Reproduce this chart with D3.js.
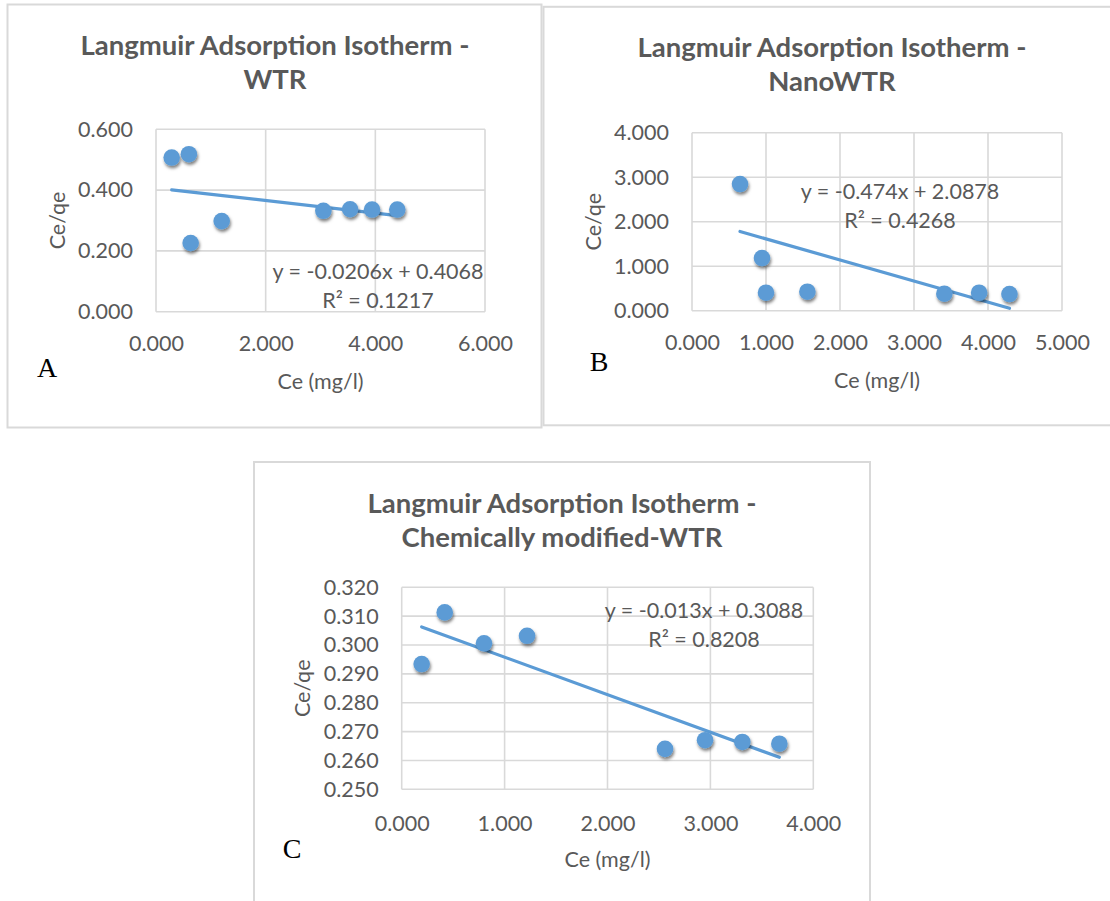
<!DOCTYPE html>
<html>
<head>
<meta charset="utf-8">
<script src="https://cdn.jsdelivr.net/npm/d3@7"></script>
<style>
  html, body { margin: 0; padding: 0; background: #ffffff; }
  svg { display: block; }
  text { font-family: Lato, "Open Sans", sans-serif; fill: #595959; }
</style>
</head>
<body>
<svg id="chart" width="1110" height="901"></svg>
<script>
// Langmuir isotherm data: Ce (mg/l) against Ce/qe for the three sorbents
const wtrCe    = [0.286, 0.600, 0.632, 1.198, 3.052, 3.540, 3.940, 4.400];
const wtrRatio = [0.507, 0.518, 0.226, 0.298, 0.332, 0.337, 0.336, 0.336];

const nanoCe    = [0.649, 0.946, 1.000, 1.559, 3.410, 3.880, 4.290];
const nanoRatio = [2.847, 1.184, 0.405, 0.427, 0.382, 0.405, 0.375];

const cmCe    = [0.194, 0.418, 0.800, 1.218, 2.559, 2.948, 3.310, 3.670];
const cmRatio = [0.2934, 0.3113, 0.3006, 0.3032, 0.2640, 0.2670, 0.2664, 0.2658];

// Linear trendlines (y = slope * x + intercept) with their R² values
const trendSlopes     = [-0.0206, -0.474, -0.013];
const trendIntercepts = [0.4068, 2.0878, 0.3088];
const trendR2         = ["0.1217", "0.4268", "0.8208"];

// Axis ticks
const wtrXTicks  = [0, 2, 4, 6];
const wtrYTicks  = [0, 0.2, 0.4, 0.6];
const nanoXTicks = [0, 1, 2, 3, 4, 5];
const nanoYTicks = [0, 1, 2, 3, 4];
const cmXTicks   = [0, 1, 2, 3, 4];
const cmYTicks   = [0.25, 0.26, 0.27, 0.28, 0.29, 0.30, 0.31, 0.32];

const titleLines = [
  ["Langmuir Adsorption Isotherm -", "WTR"],
  ["Langmuir Adsorption Isotherm -", "NanoWTR"],
  ["Langmuir Adsorption Isotherm -", "Chemically modified-WTR"]
];
const panelLetters = ["A", "B", "C"];
const xAxisTitle = "Ce (mg/l)";
const yAxisTitle = "Ce/qe";

const BLUE = "#5b9bd5";
const GRID = "#d9d9d9";
const fmt3 = d3.format(".3f");

const svg = d3.select("#chart");

// soft drop shadow under the markers
const defs = svg.append("defs");
const shadow = defs.append("filter").attr("id", "markerShadow")
  .attr("x", "-50%").attr("y", "-50%").attr("width", "200%").attr("height", "200%");
shadow.append("feDropShadow")
  .attr("dx", 1).attr("dy", 2.5).attr("stdDeviation", 1.7)
  .attr("flood-color", "#000").attr("flood-opacity", 0.5);

function drawPanel(p) {
  const g = svg.append("g");

  // chart frame
  g.append("rect")
    .attr("x", p.frame[0]).attr("y", p.frame[1])
    .attr("width", p.frame[2]).attr("height", p.frame[3])
    .attr("fill", "#fff").attr("stroke", "#d9d9d9").attr("stroke-width", 2);

  const x = d3.scaleLinear().domain(p.xDomain).range(p.xRange);
  const y = d3.scaleLinear().domain(p.yDomain).range(p.yRange);

  // title
  g.append("text")
    .attr("x", p.titleX).attr("y", p.titleY)
    .attr("text-anchor", "middle")
    .style("font-weight", 700).style("font-size", "27.5px")
    .selectAll("tspan").data(p.title).join("tspan")
    .attr("x", p.titleX)
    .attr("dy", (d, i) => i === 0 ? 0 : 34)
    .text(d => d);

  // gridlines (horizontal and vertical)
  g.append("g").selectAll("line").data(p.yTicks).join("line")
    .attr("x1", p.xRange[0]).attr("x2", p.xRange[1])
    .attr("y1", d => y(d)).attr("y2", d => y(d))
    .attr("stroke", GRID).attr("stroke-width", 1.6);
  g.append("g").selectAll("line").data(p.xTicks).join("line")
    .attr("y1", p.yRange[0]).attr("y2", p.yRange[1])
    .attr("x1", d => x(d)).attr("x2", d => x(d))
    .attr("stroke", GRID).attr("stroke-width", 1.6);

  // tick labels via d3 axes, with the axis lines hidden
  const yAxis = d3.axisLeft(y).tickValues(p.yTicks).tickFormat(fmt3).tickSize(0).tickPadding(23);
  const xAxis = d3.axisBottom(x).tickValues(p.xTicks).tickFormat(fmt3).tickSize(0).tickPadding(p.xPad);
  const ya = g.append("g").attr("transform", `translate(${p.xRange[0]},0)`).call(yAxis);
  const xa = g.append("g").attr("transform", `translate(0,${p.yRange[0]})`).call(xAxis);
  [ya, xa].forEach(a => {
    a.select(".domain").remove();
    a.selectAll("text").attr("fill", "#595959")
      .style("font-family", "Lato, sans-serif").style("font-size", "21.5px");
  });

  // axis titles
  g.append("text")
    .attr("x", (p.xRange[0] + p.xRange[1]) / 2).attr("y", p.xTitleY)
    .attr("text-anchor", "middle").style("font-size", "21.5px")
    .text(xAxisTitle);
  const ym = (p.yRange[0] + p.yRange[1]) / 2;
  g.append("text")
    .attr("transform", `translate(${p.yTitleX},${ym}) rotate(-90)`)
    .attr("text-anchor", "middle").attr("dy", "0.35em").style("font-size", "21.5px")
    .text(yAxisTitle);

  // trendline drawn from its stated equation over the data's x extent
  const ext = d3.extent(p.xs);
  const fit = v => p.slope * v + p.intercept;
  g.append("line")
    .attr("x1", x(ext[0])).attr("y1", y(fit(ext[0])))
    .attr("x2", x(ext[1])).attr("y2", y(fit(ext[1])))
    .attr("stroke", BLUE).attr("stroke-width", 3.2).attr("stroke-linecap", "round");

  // data markers
  const pts = p.xs.map((v, i) => [v, p.ys[i]]);
  g.append("g").attr("filter", "url(#markerShadow)")
    .selectAll("circle").data(pts).join("circle")
    .attr("cx", d => x(d[0])).attr("cy", d => y(d[1]))
    .attr("r", 8.3).attr("fill", BLUE);

  // equation and R² label
  g.append("text")
    .attr("text-anchor", "middle").style("font-size", "21.5px")
    .selectAll("tspan")
    .data([`y = ${p.slope}x + ${p.intercept}`, `R² = ${p.r2}`])
    .join("tspan")
    .attr("x", p.eqX)
    .attr("y", (d, i) => p.eqY + i * 29)
    .attr("dy", "0.35em")
    .text(d => d);

  // panel letter
  g.append("text")
    .attr("x", p.letterX).attr("y", p.letterY)
    .attr("text-anchor", "middle")
    .style("font-family", "'Liberation Serif', 'Times New Roman', serif")
    .style("font-size", "28px").style("fill", "#000")
    .text(p.letter);
}

drawPanel({
  frame: [7.5, 4.5, 534, 423],
  title: titleLines[0], titleX: 275, titleY: 55,
  xDomain: [0, 6], xRange: [156, 485],
  yDomain: [0, 0.6], yRange: [311.7, 129.3],
  xTicks: wtrXTicks, yTicks: wtrYTicks, xPad: 24,
  xTitleY: 389, yTitleX: 57,
  xs: wtrCe, ys: wtrRatio,
  slope: trendSlopes[0], intercept: trendIntercepts[0], r2: trendR2[0],
  eqX: 378, eqY: 271.5,
  letter: panelLetters[0], letterX: 47, letterY: 377
});

drawPanel({
  frame: [543.5, 6.8, 570, 418.5],
  title: titleLines[1], titleX: 832, titleY: 57,
  xDomain: [0, 5], xRange: [692, 1062],
  yDomain: [0, 4], yRange: [310.7, 132.7],
  xTicks: nanoXTicks, yTicks: nanoYTicks, xPad: 24,
  xTitleY: 388, yTitleX: 593,
  xs: nanoCe, ys: nanoRatio,
  slope: trendSlopes[1], intercept: trendIntercepts[1], r2: trendR2[1],
  eqX: 900, eqY: 191,
  letter: panelLetters[1], letterX: 599, letterY: 371
});

drawPanel({
  frame: [254, 462, 616, 460],
  title: titleLines[2], titleX: 562, titleY: 513,
  xDomain: [0, 4], xRange: [401.7, 813.3],
  yDomain: [0.25, 0.32], yRange: [789.3, 587.3],
  xTicks: cmXTicks, yTicks: cmYTicks, xPad: 26,
  xTitleY: 867, yTitleX: 302,
  xs: cmCe, ys: cmRatio,
  slope: trendSlopes[2], intercept: trendIntercepts[2], r2: trendR2[2],
  eqX: 704, eqY: 610,
  letter: panelLetters[2], letterX: 292, letterY: 858
});
</script>
</body>
</html>
